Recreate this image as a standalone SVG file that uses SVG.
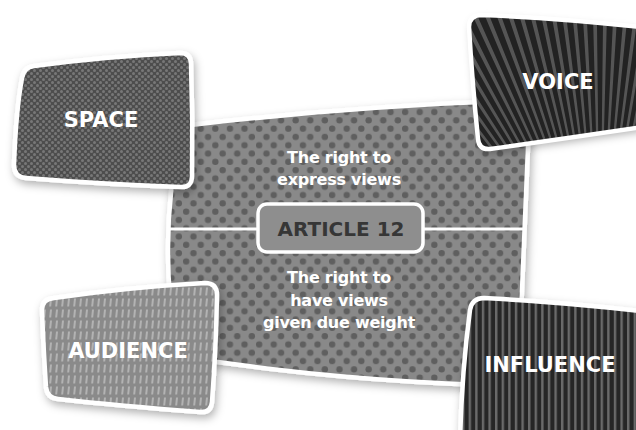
<svg xmlns="http://www.w3.org/2000/svg" width="636" height="430" viewBox="0 0 636 430">
  <defs>
    <style>
      .frame { stroke: #ffffff; stroke-width: 4.5; stroke-linejoin: round; }
      .label { font-family: "DejaVu Sans", Verdana, sans-serif; font-weight: bold; font-size: 21px; fill: #ffffff; text-anchor: middle; }
      .body { font-family: "DejaVu Sans", Verdana, sans-serif; font-weight: bold; font-size: 16px; letter-spacing: -0.25px; fill: #ffffff; text-anchor: middle; }
      .article { font-family: "DejaVu Sans", Verdana, sans-serif; font-weight: bold; font-size: 20px; fill: #363636; text-anchor: middle; }
    </style>
    <filter id="shadow" x="-20%" y="-20%" width="140%" height="150%">
      <feDropShadow dx="2" dy="4" stdDeviation="4" flood-color="#000" flood-opacity="0.3"/>
    </filter>
    <!-- large staggered dots for the central panel -->
    <pattern id="bigDots" width="14.6" height="16.6" patternUnits="userSpaceOnUse">
      <rect width="14.6" height="16.6" fill="#898989"/>
      <circle cx="3.65" cy="4.15" r="3.2" fill="#5f5f5f"/>
      <circle cx="10.95" cy="12.45" r="3.2" fill="#5f5f5f"/>
    </pattern>
    <!-- fine light dots on dark -->
    <pattern id="smallDots" width="6" height="6" patternUnits="userSpaceOnUse">
      <rect width="6" height="6" fill="#4d4d4d"/>
      <circle cx="1.5" cy="1.5" r="1.5" fill="#777777"/>
      <circle cx="4.5" cy="4.5" r="1.5" fill="#777777"/>
    </pattern>
    <!-- short slanted bars -->
    <pattern id="bars" width="6" height="11" patternUnits="userSpaceOnUse">
      <rect width="6" height="11" fill="#8a8a8a"/>
      <polygon points="2,1.5 4,1.5 3.2,9.5 1.2,9.5" fill="#b3b3b3"/>
    </pattern>
    <!-- vertical stripes -->
    <pattern id="stripes" width="6.6" height="20" patternUnits="userSpaceOnUse">
      <rect width="6.6" height="20" fill="#262626"/>
      <rect x="0" y="0" width="2.4" height="20" fill="#6b6b6b"/>
    </pattern>
    <path id="centerShape" d="M182,126 Q350,106 530,100 Q524,240 518,386 Q340,382 178,356 Q156,240 182,126 Z"/>
    <path id="voiceShape" d="M482,15 Q560,18 650,28 L650,126 Q570,138 490,149 Q479,150 478,139 Q472,80 469,27 Q469,15 482,15 Z"/>
    <clipPath id="centerClip"><use href="#centerShape"/></clipPath>
    <clipPath id="voiceClip"><use href="#voiceShape"/></clipPath>
  </defs>

  <rect width="636" height="430" fill="#ffffff"/>

  <!-- central panel -->
  <g id="article12">
    <use href="#centerShape" fill="url(#bigDots)" class="frame" filter="url(#shadow)"/>
    <g clip-path="url(#centerClip)">
      <line x1="150" y1="229" x2="540" y2="229" stroke="#ffffff" stroke-width="3"/>
    </g>
    <rect x="258" y="204" width="165" height="48" rx="9" fill="#8e8e8e" stroke="#ffffff" stroke-width="3.5"/>
    <text class="article" x="341" y="236">ARTICLE 12</text>
    <text class="body" x="339" y="163">The right to</text>
    <text class="body" x="339" y="185">express views</text>
    <text class="body" x="339" y="283">The right to</text>
    <text class="body" x="339" y="306">have views</text>
    <text class="body" x="339" y="328">given due weight</text>
  </g>

  <g id="connectors"></g>

  <!-- corner panels -->
  <g id="space">
    <path d="M34,66 Q110,56 180,53 Q191,53 191,64 Q193,120 192,176 Q192,188 180,187 Q100,184 26,178 Q14,177 14,165 Q16,110 22,78 Q24,67 34,66 Z" fill="url(#smallDots)" class="frame" filter="url(#shadow)"/>
    <text class="label" x="101" y="127">SPACE</text>
  </g>

  <g id="voice">
    <use href="#voiceShape" fill="#232323" filter="url(#shadow)"/>
    <g clip-path="url(#voiceClip)">
      <!-- thick dashed circle: each dash is a wedge, giving a sunburst -->
      <circle cx="600" cy="290" r="175" fill="none" stroke="#555555" stroke-width="350" stroke-dasharray="2.5 4.0065"/>
    </g>
    <use href="#voiceShape" fill="none" class="frame"/>
    <text class="label" x="558" y="89">VOICE</text>
  </g>

  <g id="audience">
    <path d="M54,298 Q130,287 205,283 Q217,283 217,295 Q216,350 212,402 Q211,413 200,412 Q120,406 58,399 Q47,398 46,387 Q43,340 42,310 Q42,299 54,298 Z" fill="url(#bars)" class="frame" filter="url(#shadow)"/>
    <text class="label" x="128" y="358">AUDIENCE</text>
  </g>

  <g id="influence">
    <path d="M484,298 Q560,302 650,312 L650,440 L460,440 Q462,370 470,310 Q472,298 484,298 Z" fill="url(#stripes)" class="frame" filter="url(#shadow)"/>
    <text class="label" x="550" y="372">INFLUENCE</text>
  </g>
</svg>
